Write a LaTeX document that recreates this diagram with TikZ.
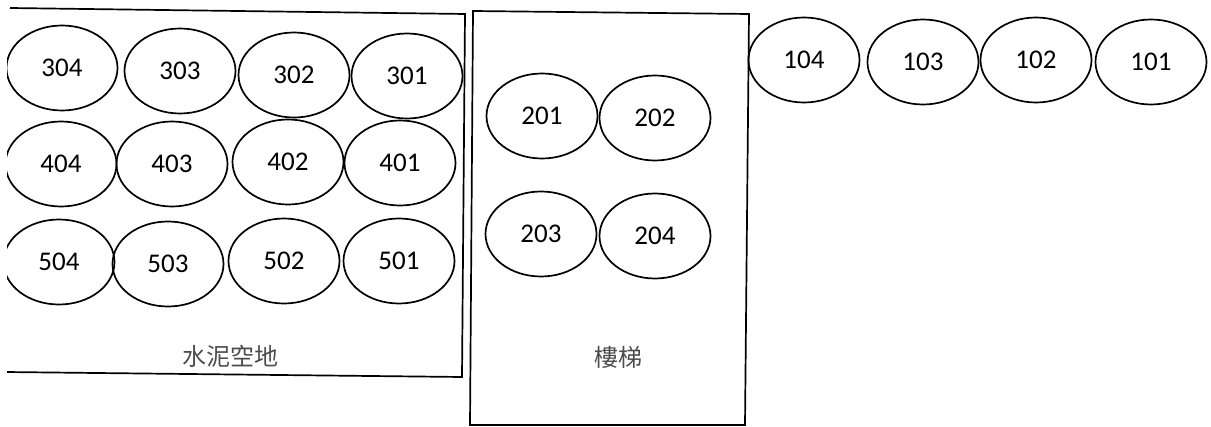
\documentclass[tikz,border=0pt]{standalone}
\usepackage{fontspec}
\setmainfont{Carlito}
\newfontfamily\cjk{Noto Sans CJK TC}
\usetikzlibrary{shapes.geometric}

\begin{document}
\begin{tikzpicture}[
  x=1pt, y=-1pt,
  every node/.style={font=\fontsize{27}{32}\selectfont},
  spot/.style={ellipse, draw, line width=1.7pt, inner sep=0pt, minimum width=111pt, minimum height=85pt},
  area/.style={line width=1.7pt},
  tag/.style={text=black!70, font=\cjk\fontsize{24}{28}\selectfont}
]
\useasboundingbox (0,0) rectangle (1211,427);
\clip (7,0) rectangle (1211,427);

% concrete yard
\draw[area] (10,8) -- (465,14) -- (462,377) -- (5,372);
\node[spot] (s304) at (62,68) {304};
\node[spot] (s303) at (180,71) {303};
\node[spot] (s302) at (294,75) {302};
\node[spot] (s301) at (407,76) {301};
\node[spot] (s404) at (61,164) {404};
\node[spot] (s403) at (172,164) {403};
\node[spot] (s402) at (288,162) {402};
\node[spot] (s401) at (400,163) {401};
\node[spot] (s504) at (59,262) {504};
\node[spot] (s503) at (168,264) {503};
\node[spot] (s502) at (284,261) {502};
\node[spot] (s501) at (399,261) {501};
\node[tag] (yard) at (230,356) {水泥空地};

% stairs
\draw[area] (473,11) -- (749,14) -- (745,425) -- (470,425) -- cycle;
\node[spot] (s201) at (542,116) {201};
\node[spot] (s202) at (655,118) {202};
\node[spot] (s203) at (541,234) {203};
\node[spot] (s204) at (655,236) {204};
\node[tag] (stairs) at (618,357) {樓梯};

% outside row
\node[spot] (s104) at (804,60) {104};
\node[spot] (s103) at (923,62) {103};
\node[spot] (s102) at (1036,60) {102};
\node[spot] (s101) at (1151,62) {101};
\end{tikzpicture}
\end{document}
